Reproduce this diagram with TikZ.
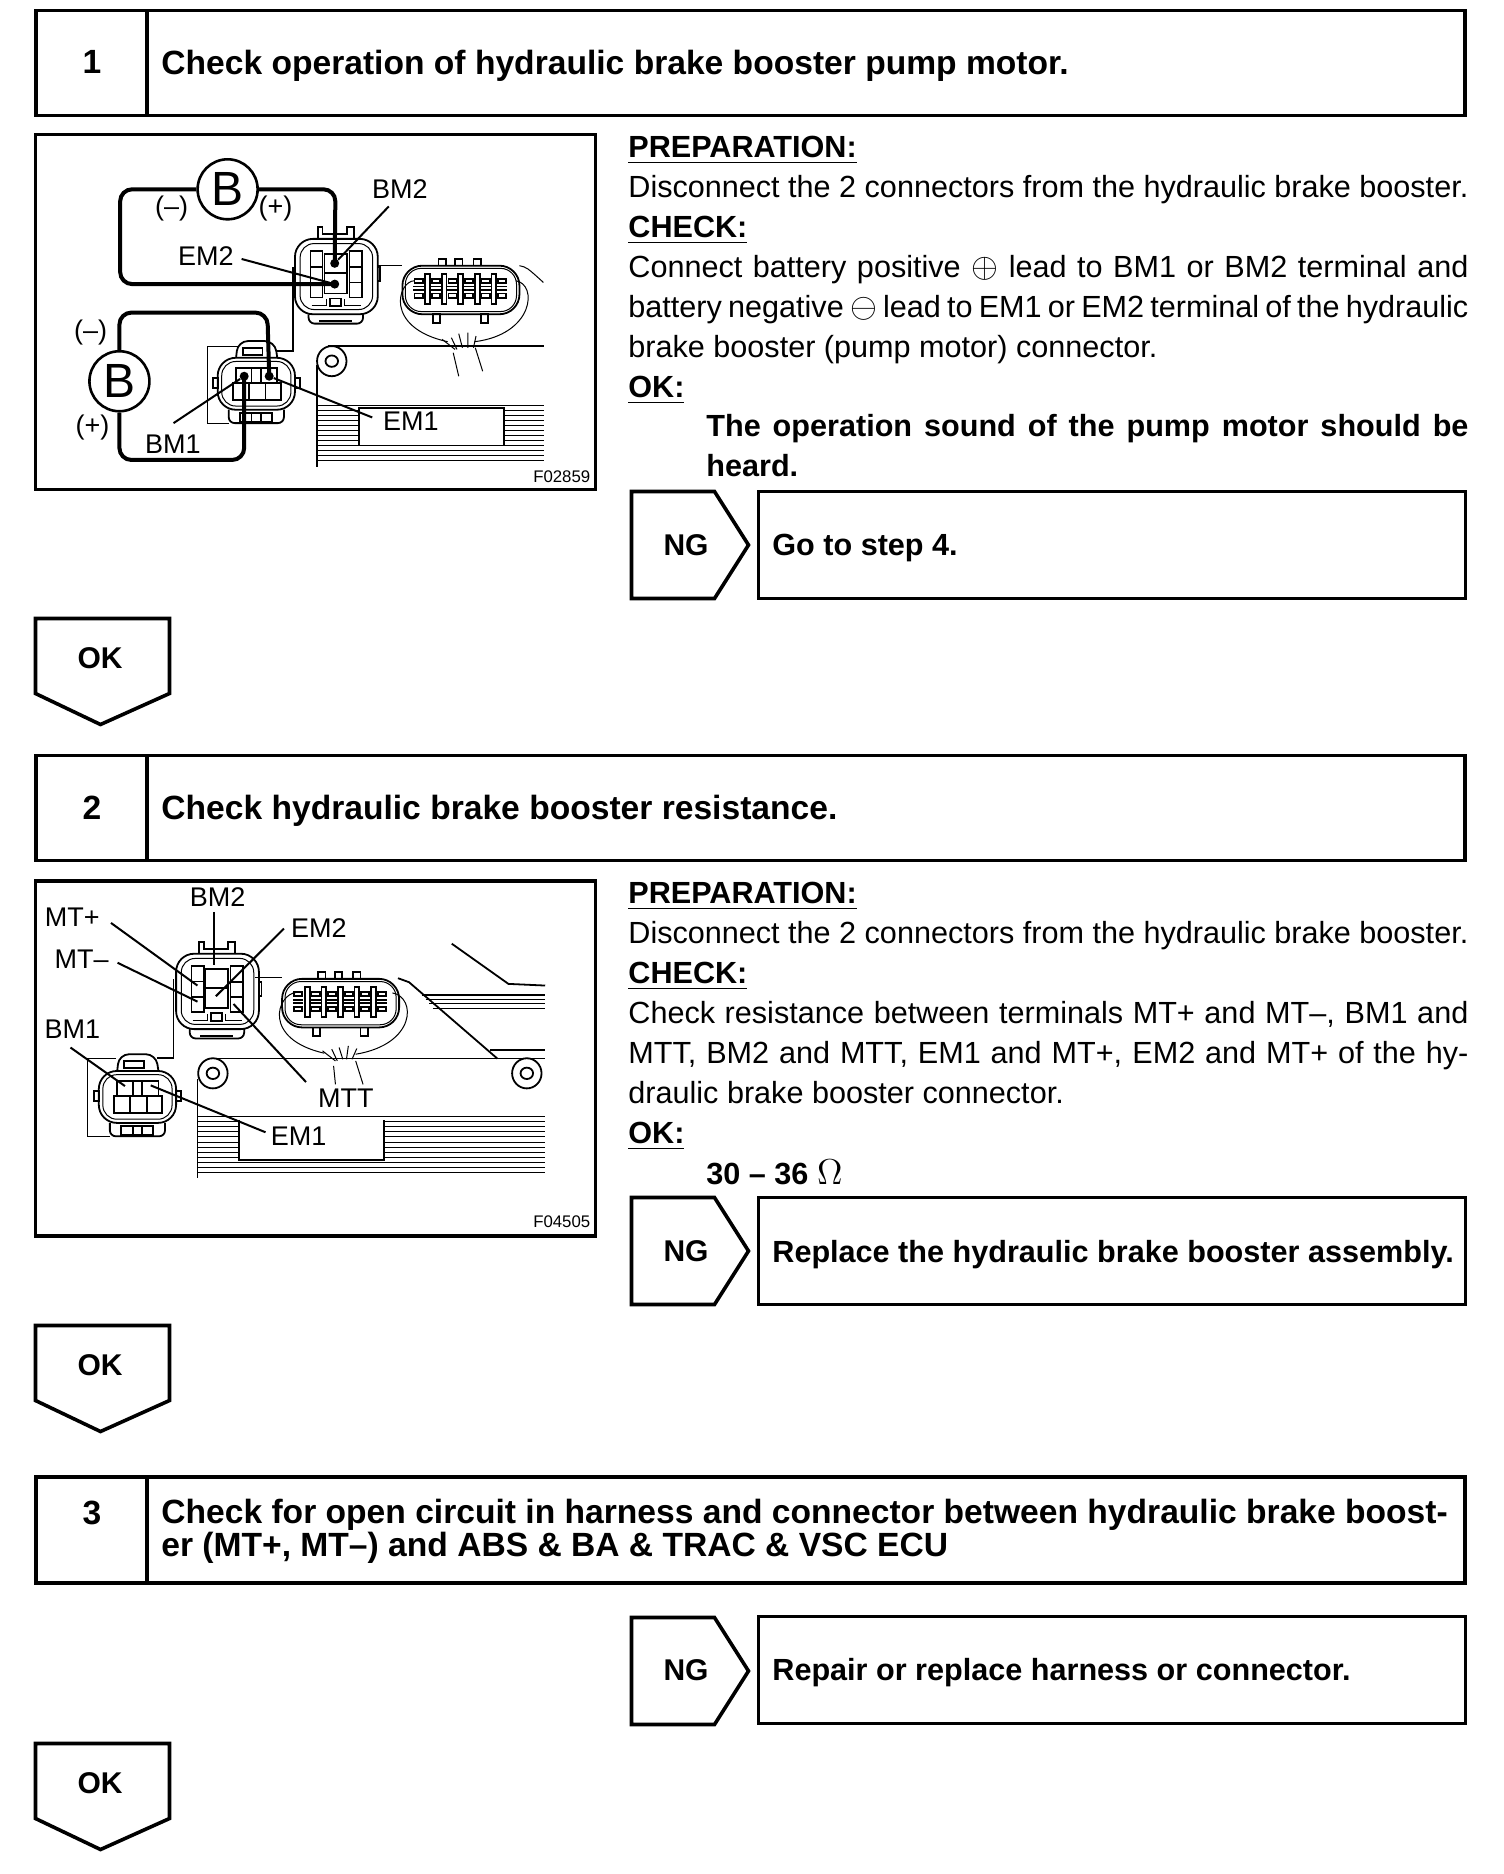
\documentclass[tikz,border=0pt]{standalone}
\usepackage{amsmath, amssymb}
\usepackage{fontspec}
\setmainfont{Liberation Sans}
\usetikzlibrary{positioning}

\tikzset{
  framed/.style={line width=1.8pt},
  lead/.style={line width=2pt, rounded corners=6pt},
  leader/.style={line width=1pt},
  part/.style={line width=.9pt},
  fine/.style={line width=.5pt},
  bodytext/.style={anchor=north west, inner sep=0pt, text width=420pt, align=justify, font=\fontsize{15.3}{20}\selectfont},
  boldtext/.style={anchor=west, inner sep=0pt, font=\fontsize{15.3}{16.5}\selectfont\bfseries},
  titletext/.style={anchor=west, inner sep=0pt, font=\fontsize{16.8}{16.5}\selectfont\bfseries},
  flagtext/.style={inner sep=0pt, font=\fontsize{15}{16}\selectfont\bfseries},
  tag/.style={inner sep=0pt, font=\fontsize{13.5}{14}\selectfont},
  figno/.style={inner sep=0pt, font=\fontsize{8.4}{9}\selectfont},
  meter/.style={circle, draw, line width=1.3pt, minimum size=30pt, inner sep=0pt, font=\fontsize{24}{24}\selectfont},
  dot/.style={fill, circle, inner sep=0pt, minimum size=4.5pt},
  headbox/.style={draw, framed, minimum width=714.5pt, minimum height=52.5pt},
  numbox/.style={draw, framed, minimum width=55.5pt, minimum height=52.5pt},
  stepbox/.style={draw, framed, minimum width=353.5pt, minimum height=53.5pt},
  panelbox/.style={draw, framed, minimum width=280pt, minimum height=177.5pt},
  okflag/.pic={\draw[framed] (0,0)--(134,0)--(134,75)--(65,106)--(0,75)--cycle;},
  ngflag/.pic={\draw[framed] (0,0)--(83,0)--(117,53.5)--(83,107)--(0,107)--cycle;},
  topplug/.pic={
    \draw[part, rounded corners=9pt] (0,0) rectangle (225,225);
    \draw[fine, rounded corners=7pt] (14,14) rectangle (211,211);
    \draw[part] (62,0)--(62,-36)--(75,-36)--(75,-15)--(142,-15)--(142,-36)--(160,-36)--(160,0);
    \draw[part, rounded corners=3pt] (37,225)--(37,253)--(185,253)--(185,225);
    \draw[part] (65,245)--(155,245);
    \draw[part] (42,37) rectangle (75,175);
    \draw[part] (42,83)--(75,83) (42,130)--(75,130);
    \draw[part] (148,37) rectangle (182,175);
    \draw[part] (148,85)--(182,85) (148,130)--(182,130);
    \draw[part] (80,45) rectangle (142,163);
    \draw[part] (80,102)--(142,102);
    \draw[part] (95,178) rectangle (125,200);
    \draw[fine] (45,200)--(85,200)--(85,180) (135,180)--(135,200)--(180,200);
    \draw[part] (225,85)--(232,85)--(232,125)--(225,125);
  },
  sideplug/.pic={
    \draw[part, rounded corners=9pt] (0,0) rectangle (210,155);
    \draw[fine, rounded corners=7pt] (11,11) rectangle (199,144);
    \draw[part, rounded corners=5pt] (50,0)--(55,-50)--(155,-50)--(162,0);
    \draw[part] (68,-30) rectangle (122,-8);
    \draw[part, rounded corners=3pt] (30,155)--(30,195)--(180,195)--(180,155);
    \draw[part] (60,165) rectangle (148,190);
    \draw[part] (92,165)--(92,190) (118,165)--(118,190);
    \draw[part] (50,30) rectangle (162,75);
    \draw[part] (92,30)--(92,75) (118,30)--(118,75);
    \draw[part] (42,75) rectangle (172,125);
    \draw[part] (85,75)--(85,125) (130,75)--(130,125);
    \draw[part] (-13,60) rectangle (0,90);
    \draw[part] (210,60) rectangle (224,90);
  },
  wideplug/.pic={
    \draw[part, rounded corners=10pt] (0,0) rectangle (318,145);
    \draw[fine, rounded corners=8pt] (8,8) rectangle (310,137);
    \foreach \tx in {98,143,193} {\draw[part] (\tx,0)--(\tx,-20)--(\tx+20,-20)--(\tx+20,0);}
    \foreach \tx in {83,213} {\draw[part] (\tx,145) rectangle (\tx+20,170);}
    \foreach \tx in {62,107,152,197,242} {\draw[part] (\tx,25) rectangle (\tx+13,115);}
    \foreach \tx in {33,80,125,170,215,260} {
      \draw[part] (\tx,40) rectangle (\tx+22,52);
      \draw[part] (\tx,83) rectangle (\tx+22,97);
      \draw[part] (\tx-3,62)--(\tx+25,62) (\tx-3,73)--(\tx+25,73);
    }
  }
}

\begin{document}
\begin{tikzpicture}[x=.5pt, y=-.5pt]
  \useasboundingbox (0,0) rectangle (1504,1874);

  \node[headbox] (headA) at (750.5,63) {};
  \node[numbox] (numA) at (91.5,63) {};
  \node[titletext, anchor=center] (digitA) at (92,62) {1};
  \node[titletext] (titleA) at (161,65.5) {Check operation of hydraulic brake booster pump motor.};

  \node[panelbox] (panelA) at (315.5,312) {};
  \begin{scope}[shift={(30,130)}, x=.184pt, y=-.1675pt]
    \draw[fine] (945,405)--(1012,405);
    \draw[fine] (1330,405) .. controls (1350,410) .. (1395,455);
    \draw[part] (810,645)--(1398,645);
    \draw[part] (780,700)--(780,1005);
    \draw[fine] (483,645)--(483,875)--(540,875);
    \draw[fine] (483,645)--(565,645);
    \draw[part] (670,660)--(715,660)--(715,410);
    \draw[fine] (780,822)--(1398,822);
    \foreach \hy in {837,852,867,882,897,912,927,942} {
      \draw[fine] (780,\hy)--(893,\hy) (1287,\hy)--(1398,\hy);
    }
    \foreach \hy in {957,972,987} {\draw[fine] (780,\hy)--(1398,\hy);}
    \draw[part] (893,830)--(1287,830)--(1287,942)--(893,942)--cycle;
    \draw[part, fill=white] (820,690) circle [x radius=40, y radius=45];
    \draw[part] (820,690) circle [x radius=17, y radius=17];
    \pic at (720,325) {topplug};
    \pic at (510,680) {sideplug};
    \pic at (1012,405) {wideplug};
    \draw[fine] (1045,450) .. controls (1000,450) and (960,590) .. (1135,632);
    \draw[fine] (1320,450) .. controls (1380,460) and (1370,610) .. (1208,632);
    \draw[fine] (1120,625)--(1155,655) (1145,620)--(1160,655) (1165,608)--(1175,650) (1190,605)--(1190,650) (1212,615)--(1205,650);
    \draw[fine] (1150,665)--(1165,735) (1210,650)--(1230,720);

    \node[meter] (batA) at (537,177) {B};
    \node[meter] (batB) at (243,750) {B};
    \node[dot] (bmTwo) at (828,398) {};
    \node[dot] (emTwo) at (828,460) {};
    \node[dot] (bmOne) at (582,735) {};
    \node[dot] (emOne) at (650,735) {};
    \draw[lead] (batA.east)--(830,177)--(bmTwo.center);
    \draw[lead] (batA.west)--(245,177)--(245,460)--(emTwo.center);
    \draw[lead] (batB.north)--(243,545)--(645,545)--(emOne.center);
    \draw[lead] (batB.south)--(243,985)--(582,985)--(bmOne.center);

    \node[tag] (tagBMTwo) at (1005,175) {BM2};
    \node[tag] (tagEMTwo) at (478,375) {EM2};
    \node[tag] (tagBMOne) at (388,938) {BM1};
    \node[tag] (tagEMOne) at (1035,870) {EM1};
    \coordinate (endBMTwo) at (975,228);
    \coordinate (endEMTwo) at (575,385);
    \coordinate (endBMOne) at (390,875);
    \coordinate (endEMOne) at (930,858);
    \draw[leader] (endBMTwo)--(bmTwo);
    \draw[leader] (endEMTwo)--(emTwo);
    \draw[leader] (endBMOne)--(bmOne);
    \draw[leader] (endEMOne)--(emOne);
    \node[tag] (minusA) at (385,235) {(–)};
    \node[tag] (plusA) at (667,235) {(+)};
    \node[tag] (minusB) at (165,605) {(–)};
    \node[tag] (plusB) at (170,888) {(+)};
    \node[figno] (figA) at (1445,1035) {F02859};
  \end{scope}

  \node[bodytext] (textA) at (628,136) {\underline{\textbf{PREPARATION:}}\\
    Disconnect the 2 connectors from the hydraulic brake booster.\\
    \underline{\textbf{CHECK:}}\\
    Connect battery positive \scalebox{1.2}{$\oplus$} lead to BM1 or BM2 terminal and\linebreak
    battery negative \scalebox{1.2}{$\ominus$} lead to EM1 or EM2 terminal of the hydraulic\linebreak
    brake booster (pump motor) connector.\\
    \underline{\textbf{OK:}}};
  \node[bodytext, text width=381pt, font=\fontsize{15.3}{20}\selectfont\bfseries] (resultA) at (706,414) {The operation sound of the pump motor should be\linebreak heard.};

  \pic at (631.5,491.5) {ngflag};
  \node[flagtext] (ngA) at (686,545) {NG};
  \node[stepbox] (stepA) at (1112,545) {};
  \node[boldtext] (goA) at (772,548) {Go to step 4.};
  \pic at (35.5,618.5) {okflag};
  \node[flagtext] (okA) at (100,658) {OK};

  \node[headbox] (headB) at (750.5,808) {};
  \node[numbox] (numB) at (91.5,808) {};
  \node[titletext, anchor=center] (digitB) at (92,808) {2};
  \node[titletext] (titleB) at (161,811) {Check hydraulic brake booster resistance.};

  \node[panelbox] (panelB) at (315.5,1058.5) {};
  \begin{scope}[shift={(30,875)}, x=.184pt, y=-.1675pt]
    \draw[fine] (612,305)--(685,305);
    \draw[part] (1000,308)--(1030,320)--(1270,548);
    \draw[part] (1146,205)--(1300,325)--(1400,330);
    \draw[line width=1.1pt] (1065,358)--(1400,358);
    \draw[fine] (1075,372)--(1400,372) (1085,385)--(1400,385) (1095,398)--(1400,398);
    \draw[part] (1250,522)--(1400,522);
    \draw[part] (490,548)--(1400,548);
    \draw[part] (455,610)--(455,905);
    \draw[fine] (157,547)--(157,780)--(218,780);
    \draw[fine] (157,547)--(235,547);
    \draw[part] (345,547)--(390,547)--(390,310);
    \draw[fine] (455,722)--(1400,722);
    \foreach \hy in {737,752,767,782,797,812,827,842} {
      \draw[fine] (455,\hy)--(567,\hy) (962,\hy)--(1400,\hy);
    }
    \foreach \hy in {857,872,887} {\draw[fine] (455,\hy)--(1400,\hy);}
    \draw[part] (567,730)--(567,850)--(962,850)--(962,730);
    \draw[part, fill=white] (497,592) circle [x radius=40, y radius=45];
    \draw[part] (497,592) circle [x radius=17, y radius=17];
    \draw[part, fill=white] (1350,592) circle [x radius=40, y radius=45];
    \draw[part] (1350,592) circle [x radius=17, y radius=17];
    \pic at (397,235) {topplug};
    \pic at (187,585) {sideplug};
    \pic at (685,310) {wideplug};
    \draw[fine] (725,350) .. controls (670,355) and (630,490) .. (800,532);
    \draw[fine] (985,352) .. controls (1050,365) and (1050,505) .. (885,535);
    \draw[fine] (795,525)--(830,555) (820,520)--(835,555) (840,515)--(850,550) (865,510)--(860,550) (888,518)--(875,550);
    \draw[fine] (825,570)--(830,625) (885,555)--(905,625);

    \node[tag] (tagBMTwoB) at (510,65) {BM2};
    \node[tag] (tagMTplus) at (115,125) {MT+};
    \node[tag] (tagMTminus) at (140,250) {MT–};
    \node[tag] (tagEMTwoB) at (785,158) {EM2};
    \node[tag] (tagBMOneB) at (115,460) {BM1};
    \node[tag] (tagMTT) at (858,665) {MTT};
    \node[tag] (tagEMOneB) at (730,780) {EM1};
    \coordinate (pinBMTwo) at (500,270);
    \coordinate (pinMTplus) at (455,330);
    \coordinate (pinMTminus) at (455,378);
    \coordinate (pinEMTwo) at (505,362);
    \coordinate (pinMTT) at (553,385);
    \coordinate (pinBMOne) at (258,630);
    \coordinate (pinEMOne) at (328,628);
    \draw[leader] (500,110)--(pinBMTwo);
    \draw[leader] (220,143)--(pinMTplus);
    \draw[leader] (238,262)--(pinMTminus);
    \draw[leader] (690,160)--(pinEMTwo);
    \draw[leader] (750,618)--(pinMTT);
    \draw[leader] (110,515)--(pinBMOne);
    \draw[leader] (640,768)--(pinEMOne);
    \node[figno] (figB) at (1445,1035) {F04505};
  \end{scope}

  \node[bodytext] (textB) at (628,882) {\underline{\textbf{PREPARATION:}}\\
    Disconnect the 2 connectors from the hydraulic brake booster.\\
    \underline{\textbf{CHECK:}}\\
    Check resistance between terminals MT+ and MT–, BM1 and\linebreak
    MTT, BM2 and MTT, EM1 and MT+, EM2 and MT+ of the hy-\linebreak
    draulic brake booster connector.\\
    \underline{\textbf{OK:}}};
  \node[bodytext, text width=381pt, font=\fontsize{15.3}{20}\selectfont\bfseries] (resultB) at (706,1159) {30 – 36 \scalebox{1.25}{$\Omega$}};

  \pic at (631.5,1197.5) {ngflag};
  \node[flagtext] (ngB) at (686,1251) {NG};
  \node[stepbox] (stepB) at (1112,1251) {};
  \node[boldtext] (goB) at (772,1255) {Replace the hydraulic brake booster assembly.};
  \pic at (35.5,1325.5) {okflag};
  \node[flagtext] (okB) at (100,1365) {OK};

  \node[headbox, minimum height=53pt] (headC) at (750.5,1530) {};
  \node[numbox, minimum height=53pt] (numC) at (91.5,1530) {};
  \node[titletext, anchor=center] (digitC) at (92,1513) {3};
  \node[titletext, align=left] (titleC) at (161,1531) {Check for open circuit in harness and connector between hydraulic brake boost-\\er (MT+, MT–) and ABS \& BA \& TRAC \& VSC ECU};

  \pic at (631.5,1617.5) {ngflag};
  \node[flagtext] (ngC) at (686,1670) {NG};
  \node[stepbox] (stepC) at (1112,1670) {};
  \node[boldtext] (goC) at (772,1673) {Repair or replace harness or connector.};
  \pic at (35.5,1743.5) {okflag};
  \node[flagtext] (okC) at (100,1783) {OK};
\end{tikzpicture}
\end{document}
